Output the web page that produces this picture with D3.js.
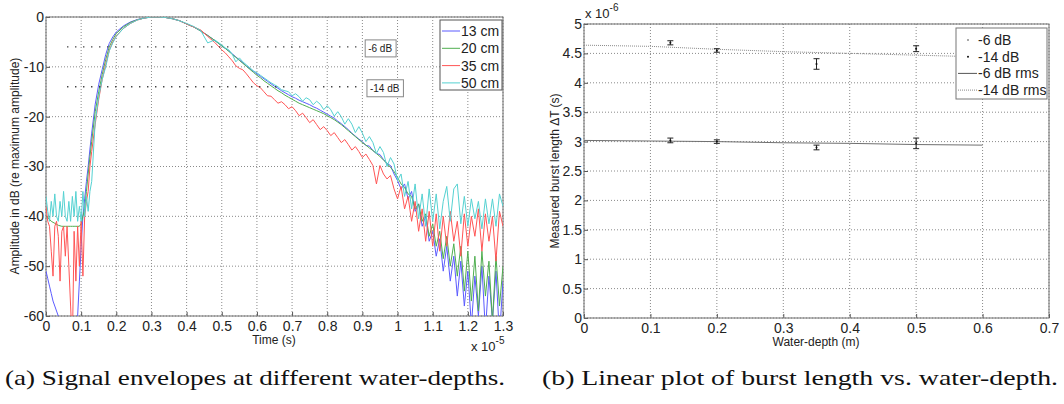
<!DOCTYPE html>
<html>
<head>
<meta charset="utf-8">
<script src="https://cdn.jsdelivr.net/npm/d3@7"></script>
<style>
    body { margin: 0; background: #fff; }
    text { font-family: "Liberation Sans Narrow", "Liberation Sans", Arial, sans-serif; fill: #222; }
    .caption { font-family: "Liberation Serif", "DejaVu Serif", serif; fill: #111; }
</style>
</head>
<body>
<svg id="chart" width="1064" height="404"></svg>
<script>
/* ---------- data: panel (a), envelopes in dB vs time (x 10^-5 s) ---------- */
var timeAxis = [
    0, 0.005, 0.01, 0.015, 0.02, 0.025, 0.03, 0.035, 0.04, 0.045, 0.05, 0.055, 0.06,
    0.065, 0.07, 0.075, 0.08, 0.085, 0.09, 0.095, 0.1, 0.105, 0.11, 0.115, 0.12,
    0.125, 0.13, 0.14, 0.15, 0.16, 0.17, 0.18, 0.19, 0.2, 0.22, 0.24, 0.26,
    0.28, 0.3, 0.32, 0.34, 0.36, 0.38, 0.4, 0.42, 0.44, 0.46, 0.48,
    0.5, 0.51, 0.52, 0.53, 0.54, 0.55, 0.56, 0.57, 0.58, 0.59,
    0.6, 0.61, 0.62, 0.63, 0.64, 0.65, 0.66, 0.67, 0.68, 0.69,
    0.7, 0.71, 0.72, 0.73, 0.74, 0.75, 0.76, 0.77, 0.78, 0.79,
    0.8, 0.81, 0.82, 0.83, 0.84, 0.85, 0.86, 0.87, 0.88, 0.89,
    0.9, 0.91, 0.92, 0.93, 0.94, 0.95, 0.96, 0.97, 0.98, 0.99,
    1.0, 1.01, 1.02, 1.03, 1.04, 1.05, 1.06, 1.07, 1.08, 1.09,
    1.1, 1.11, 1.12, 1.13, 1.14, 1.15, 1.16, 1.17, 1.18, 1.19,
    1.2, 1.21, 1.22, 1.23, 1.24, 1.25, 1.26, 1.27, 1.28, 1.29,
    1.3
];

var env13 = [
    -51, -52.5, -54, -55.5, -57, -58, -59, -60, -61, -63, -66, -68, -68,
    -68, -68, -68, -68, -66, -60, -53, -46, -40, -36.5, -33, -30,
    -26.5, -23.3, -17.5, -13.5, -10.5, -7.5, -5.3, -4.0, -3.0, -1.8, -1.0, -0.5,
    -0.2, 0, 0, -0.1, -0.35, -0.75, -1.4, -2.0, -2.8, -3.7, -4.7,
    -5.8, -6.3, -6.8, -7.4, -8.0, -8.6, -9.2, -9.8, -10.4, -10.9,
    -11.4, -11.9, -12.4, -12.9, -13.4, -13.9, -14.3, -14.8, -15.2, -15.6,
    -16.0, -16.3, -16.7, -17.0, -17.3, -17.6, -18.0, -18.3, -18.7, -19.1,
    -19.5, -19.9, -20.3, -20.9, -21.4, -22.0, -22.6, -23.3, -23.9, -24.5,
    -25.0, -25.8, -25.9, -26.8, -27.4, -27.6, -28.6, -29.4, -29.8, -31.5,
    -32.8, -34.5, -33.5, -36.5, -35.0, -39.0, -37.5, -42.0, -40.0, -45.0,
    -43.0, -48.0, -44.5, -51.0, -46.0, -53.0, -48.0, -56.0, -49.0, -58.0,
    -51.0, -62.0, -52.0, -60.0, -50.0, -63.0, -52.0, -61.0, -51.0, -64.0,
    -53.0
];

var env20 = [
    -40, -40.3, -40.6, -41, -41.2, -41.4, -41.6, -41.8, -41.9, -42, -42, -42, -42,
    -42, -42, -42, -42, -42, -42, -42, -41.5, -40, -38.5, -35, -31.5,
    -28, -25, -19, -15, -11.5, -8.5, -6.0, -4.5, -3.3, -2.0, -1.1, -0.55,
    -0.2, 0, 0, -0.1, -0.35, -0.75, -1.4, -2.0, -2.8, -3.7, -4.7,
    -5.8, -6.3, -6.9, -7.5, -8.1, -8.7, -9.3, -9.9, -10.5, -11.1,
    -11.7, -12.2, -12.8, -13.3, -13.8, -14.3, -14.8, -15.2, -15.7, -16.1,
    -16.5, -16.9, -17.3, -17.6, -17.9, -18.2, -18.5, -18.8, -19.1, -19.4,
    -19.8, -20.2, -20.6, -21.1, -21.6, -22.2, -22.8, -23.4, -24.0, -24.6,
    -25.2, -25.7, -26.3, -26.8, -27.4, -28.0, -28.7, -29.4, -30.2, -31.0,
    -32.2, -33.5, -34.2, -35.5, -36.0, -38.5, -37.5, -41.0, -39.5, -44.0,
    -41.5, -46.0, -43.0, -48.5, -44.0, -50.0, -45.5, -52.0, -46.0, -55.0,
    -47.0, -57.0, -48.0, -59.0, -47.0, -56.0, -49.0, -61.0, -48.0, -58.0,
    -50.0
];

var env35 = [
    -38, -41, -42, -47, -52, -42, -41, -44, -53, -43, -42, -48, -42,
    -50, -58, -66, -43, -53, -42, -50, -41, -52, -40, -37, -35,
    -30, -27, -21.5, -16.5, -12.5, -9.5, -6.7, -5.0, -3.8, -2.3, -1.3, -0.6,
    -0.2, 0, 0, -0.1, -0.35, -0.75, -1.4, -2.0, -2.6, -3.9, -5.1,
    -6.6, -7.2, -8.0, -8.8, -9.8, -10.3, -10.6, -11.4, -12.3, -13.2,
    -13.8, -14.2, -15.0, -15.8, -15.9, -16.6, -17.3, -17.0, -17.6, -18.4,
    -18.0, -18.8, -19.8, -19.3, -20.2, -21.2, -20.6, -21.6, -22.6, -22.0,
    -22.8, -23.8, -23.2, -24.2, -25.2, -24.6, -25.6, -26.7, -26.0, -27.0,
    -28.2, -27.5, -28.6, -29.8, -33.5, -29.8, -31.5, -32.5, -31.8, -34.5,
    -36.5, -34.0, -38.5, -36.0, -41.0, -37.0, -43.0, -38.5, -45.0, -39.0,
    -46.0, -39.5, -47.0, -40.0, -46.0, -39.0, -45.0, -41.0, -48.0, -39.5,
    -46.0, -40.0, -44.0, -38.5, -47.0, -39.5, -45.0, -40.0, -49.0, -39.0,
    -42.0
];

var env50 = [
    -36, -39, -41, -37, -40, -35.5, -40, -41, -37, -40, -35, -40, -41,
    -37, -41, -36, -40, -35, -41, -38, -41, -35, -40, -36, -39,
    -35, -33, -21, -16, -12.5, -10.0, -6.8, -5.2, -3.9, -2.3, -1.3, -0.6,
    -0.2, 0, 0, -0.1, -0.35, -0.75, -1.3, -1.9, -2.7, -5.2, -4.6,
    -5.6, -6.2, -6.6, -7.5, -9.0, -8.2, -9.0, -9.6, -10.2, -10.8,
    -11.2, -11.7, -12.2, -12.7, -13.2, -13.6, -14.0, -14.6, -14.8, -15.0,
    -15.8, -15.4, -16.0, -16.9, -16.2, -16.6, -17.6, -16.9, -17.5, -18.6,
    -17.8, -18.6, -19.9, -19.0, -20.0, -21.5, -20.4, -21.5, -23.2, -22.0,
    -23.3, -25.0, -24.0, -25.2, -27.4, -26.0, -27.2, -30.0, -28.2, -29.5,
    -32.8, -31.5, -36.0, -33.0, -38.5, -33.5, -40.5, -35.5, -42.0, -34.5,
    -41.0, -35.5, -42.5, -37.0, -34.0, -41.0, -34.5, -33.5, -41.5, -36.0,
    -42.0, -36.5, -40.5, -37.0, -42.5, -36.5, -41.5, -36.5, -42.0, -35.5,
    -38.0
];

var seriesNames = ["13 cm", "20 cm", "35 cm", "50 cm"];
var seriesColors = ["#5b5bff", "#4fae4f", "#ff5555", "#55d2d2"];
var levelValues = [-6, -14];
var levelLabels = ["-6 dB", "-14 dB"];
var timeTicks = [0, 0.1, 0.2, 0.3, 0.4, 0.5, 0.6, 0.7, 0.8, 0.9, 1.0, 1.1, 1.2, 1.3];
var dbTicks = [0, -10, -20, -30, -40, -50, -60];

/* ---------- data: panel (b), burst length (x 10^-6 s) vs water depth ---------- */
var depths = [0.13, 0.2, 0.35, 0.5];
var burst6 = [3.02, 3.0, 2.9, 2.97];
var err6 = [0.04, 0.03, 0.04, 0.09];
var burst14 = [4.68, 4.55, 4.32, 4.58];
var err14 = [0.035, 0.03, 0.09, 0.05];
var rmsDepths = [0, 0.1, 0.2, 0.3, 0.4, 0.5, 0.6];
var rms6 = [3.02, 3.01, 3.0, 2.98, 2.97, 2.95, 2.94];
var rms14 = [4.64, 4.62, 4.57, 4.53, 4.5, 4.47, 4.44];
var depthTicks = [0, 0.1, 0.2, 0.3, 0.4, 0.5, 0.6, 0.7];
var burstTicks = [0, 0.5, 1, 1.5, 2, 2.5, 3, 3.5, 4, 4.5, 5];
var legendNames = ["-6 dB", "-14 dB", "-6 dB rms", "-14 dB rms"];

var svg = d3.select("#chart");

/* helper: dotted grid + inward ticks + box */
function drawFrame(g, x, y, xt, yt, fmtX, fmtY) {
    var x0 = x.range()[0], x1 = x.range()[1];
    var y0 = y.range()[1], y1 = y.range()[0];

    g.append("g").selectAll("line").data(xt).enter().append("line")
        .attr("x1", function (d) { return x(d); }).attr("x2", function (d) { return x(d); })
        .attr("y1", y0).attr("y2", y1)
        .attr("stroke", "#8a8a8a").attr("stroke-dasharray", "1,2");
    g.append("g").selectAll("line").data(yt).enter().append("line")
        .attr("y1", function (d) { return y(d); }).attr("y2", function (d) { return y(d); })
        .attr("x1", x0).attr("x2", x1)
        .attr("stroke", "#8a8a8a").attr("stroke-dasharray", "1,2");

    var ax = g.append("g")
        .attr("transform", "translate(0," + y1 + ")")
        .call(d3.axisBottom(x).tickValues(xt).tickSize(-4).tickPadding(5).tickFormat(fmtX));
    var ay = g.append("g")
        .attr("transform", "translate(" + x0 + ",0)")
        .call(d3.axisLeft(y).tickValues(yt).tickSize(-4).tickPadding(2).tickFormat(fmtY));
    [ax, ay].forEach(function (a) {
        a.select(".domain").remove();
        a.selectAll("line").attr("stroke", "#555");
        a.selectAll("text").attr("font-size", 14).attr("fill", "#222");
        a.attr("font-family", null);
    });

    g.append("rect")
        .attr("x", x0).attr("y", y0)
        .attr("width", x1 - x0).attr("height", y1 - y0)
        .attr("fill", "none").attr("stroke", "#6e6e6e");
}

function expLabel(g, x, y, power) {
    var t = g.append("text").attr("x", x).attr("y", y).attr("font-size", 13);
    t.append("tspan").text("x 10");
    t.append("tspan").attr("dy", -7).attr("font-size", 10).text(power);
}

/* ================= panel (a) ================= */
var xL = d3.scaleLinear().domain([0, 1.3]).range([46, 503]);
var yL = d3.scaleLinear().domain([-60, 0]).range([316, 17]);
var gL = svg.append("g");

drawFrame(gL, xL, yL, timeTicks, dbTicks,
    function (d) { return String(+d.toFixed(1)); },
    function (d) { return String(d); });

svg.append("clipPath").attr("id", "clipL").append("rect")
    .attr("x", 46).attr("y", 17).attr("width", 457).attr("height", 299);

var envelopes = [env13, env20, env35, env50];
var envLine = d3.line()
    .x(function (d) { return xL(d[0]); })
    .y(function (d) { return yL(d[1]); });

envelopes.forEach(function (vals, k) {
    var pts = timeAxis.map(function (t, i) { return [t, vals[i]]; })
        .filter(function (p) { return p[1] !== undefined; });
    gL.append("path")
        .attr("clip-path", "url(#clipL)")
        .attr("d", envLine(pts))
        .attr("fill", "none")
        .attr("stroke", seriesColors[k])
        .attr("stroke-width", 1);
});

// -6 / -14 dB reference levels with boxed labels
levelValues.forEach(function (lv, i) {
    gL.append("line")
        .attr("x1", xL(0.06)).attr("x2", xL(0.893))
        .attr("y1", yL(lv)).attr("y2", yL(lv))
        .attr("stroke", "#333").attr("stroke-width", 1.3)
        .attr("stroke-dasharray", "1.3,6.7");
    var bx = xL(0.908 + i * 0.005), by = yL(lv) - 7;
    var box = gL.append("g");
    var frame = box.append("rect")
        .attr("x", bx).attr("y", by).attr("height", 17)
        .attr("fill", "#fff").attr("stroke", "#888");
    var lab = box.append("text")
        .attr("x", bx + 3).attr("y", by + 12)
        .attr("font-size", 10)
        .text(levelLabels[i]);
    frame.attr("width", lab.node().getComputedTextLength() + 7);
});

// legend
var legL = gL.append("g");
legL.append("rect")
    .attr("x", 440).attr("y", 20).attr("width", 62).attr("height", 70)
    .attr("fill", "#fff").attr("stroke", "#555");
seriesNames.forEach(function (name, i) {
    var ry = 31 + i * 17.3;
    legL.append("line")
        .attr("x1", 442).attr("x2", 460).attr("y1", ry).attr("y2", ry)
        .attr("stroke", seriesColors[i]);
    legL.append("text")
        .attr("x", 461).attr("y", ry + 5)
        .attr("font-size", 14)
        .text(name);
});

gL.append("text")
    .attr("transform", "translate(19,166) rotate(-90)")
    .attr("text-anchor", "middle")
    .attr("font-size", 12)
    .text("Amplitude in dB (re maximum amplitude)");
gL.append("text")
    .attr("x", 274).attr("y", 344)
    .attr("text-anchor", "middle")
    .attr("font-size", 12)
    .text("Time (s)");
expLabel(gL, 471, 351, "-5");

/* ================= panel (b) ================= */
var xR = d3.scaleLinear().domain([0, 0.7]).range([584, 1049]);
var yR = d3.scaleLinear().domain([0, 5]).range([318, 24]);
var gR = svg.append("g");

drawFrame(gR, xR, yR, depthTicks, burstTicks,
    function (d) { return String(+d.toFixed(1)); },
    function (d) { return String(d); });

var rmsLine = d3.line()
    .x(function (d) { return xR(d[0]); })
    .y(function (d) { return yR(d[1]); });

gR.append("path")
    .attr("d", rmsLine(rmsDepths.map(function (d, i) { return [d, rms6[i]]; })))
    .attr("fill", "none").attr("stroke", "#707070").attr("stroke-width", 1);
gR.append("path")
    .attr("d", rmsLine(rmsDepths.map(function (d, i) { return [d, rms14[i]]; })))
    .attr("fill", "none").attr("stroke", "#8a8a8a").attr("stroke-width", 1)
    .attr("stroke-dasharray", "1,1");

function errorBars(vals, errs) {
    var g = gR.append("g").attr("stroke", "#222").attr("stroke-width", 1);
    depths.forEach(function (d, i) {
        var cx = xR(d);
        g.append("line").attr("x1", cx).attr("x2", cx)
            .attr("y1", yR(vals[i] - errs[i])).attr("y2", yR(vals[i] + errs[i]));
        g.append("line").attr("x1", cx - 3).attr("x2", cx + 3)
            .attr("y1", yR(vals[i] - errs[i])).attr("y2", yR(vals[i] - errs[i]));
        g.append("line").attr("x1", cx - 3).attr("x2", cx + 3)
            .attr("y1", yR(vals[i] + errs[i])).attr("y2", yR(vals[i] + errs[i]));
        gR.append("circle").attr("cx", cx).attr("cy", yR(vals[i])).attr("r", 1).attr("fill", "#111");
    });
}
errorBars(burst6, err6);
errorBars(burst14, err14);

// legend
var legR = gR.append("g");
legR.append("rect")
    .attr("x", 956).attr("y", 28).attr("width", 91).attr("height", 71)
    .attr("fill", "#fff").attr("stroke", "#777");
legendNames.forEach(function (name, i) {
    var ry = 40 + i * 16.7;
    if (i < 2) {
        legR.append("circle").attr("cx", 968).attr("cy", ry).attr("r", i === 0 ? 0.7 : 1)
            .attr("fill", "#111");
    } else {
        legR.append("line").attr("x1", 958).attr("x2", 977).attr("y1", ry).attr("y2", ry)
            .attr("stroke", i === 2 ? "#555" : "#888")
            .attr("stroke-dasharray", i === 2 ? null : "1,1");
    }
    legR.append("text")
        .attr("x", 978).attr("y", ry + 5)
        .attr("font-size", 14)
        .text(name);
});

gR.append("text")
    .attr("transform", "translate(559,171) rotate(-90)")
    .attr("text-anchor", "middle")
    .attr("font-size", 12)
    .text("Measured burst length  \u0394T (s)");
gR.append("text")
    .attr("x", 816).attr("y", 346)
    .attr("text-anchor", "middle")
    .attr("font-size", 12)
    .text("Water-depth (m)");
expLabel(gR, 585, 18, "-6");

/* ---------- captions ---------- */
svg.append("text").attr("class", "caption")
    .attr("x", 5).attr("y", 385)
    .attr("font-size", 21)
    .attr("textLength", 500).attr("lengthAdjust", "spacingAndGlyphs")
    .text("(a) Signal envelopes at different water-depths.");
svg.append("text").attr("class", "caption")
    .attr("x", 542).attr("y", 385)
    .attr("font-size", 21)
    .attr("textLength", 516).attr("lengthAdjust", "spacingAndGlyphs")
    .text("(b) Linear plot of burst length vs. water-depth.");
</script>
</body>
</html>
